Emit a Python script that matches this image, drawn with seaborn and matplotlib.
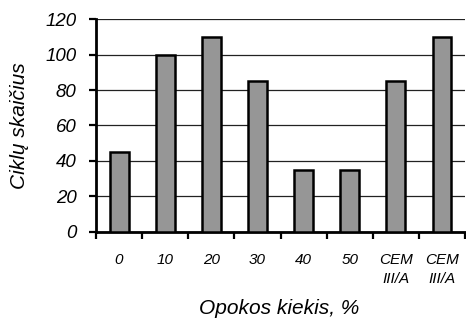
import matplotlib
matplotlib.use("Agg")
import matplotlib.pyplot as plt
import seaborn as sns
import pandas as pd
import numpy as np
from matplotlib.ticker import FixedLocator

# Data
categories = ["0", "10", "20", "30", "40", "50", "CEM\nIII/A", "CEM\nIII/A"]
cycles = [45, 100, 110, 85, 35, 35, 85, 110]
y_ticks = [0, 20, 40, 60, 80, 100, 120]

sns.set_theme(style="white")
plt.rcParams["font.family"] = ["Liberation Sans", "DejaVu Sans"]
plt.rcParams["text.color"] = "black"
plt.rcParams["axes.labelcolor"] = "black"
plt.rcParams["xtick.color"] = "black"
plt.rcParams["ytick.color"] = "black"

df = pd.DataFrame({"pos": list(range(len(categories))), "cycles": cycles})

fig = plt.figure(figsize=(4.66, 3.23), dpi=100)
ax = fig.add_axes([0.206, 0.282, 0.792, 0.659])

sns.barplot(data=df, x="pos", y="cycles", color="#969696", width=0.41,
            edgecolor="black", linewidth=1.8, saturation=1, ax=ax, zorder=3)

ax.set_ylim(0, 120)
ax.set_xlim(-0.5, len(categories) - 0.5)
ax.set_yticks(y_ticks)
ax.set_yticklabels([str(v) for v in y_ticks], fontsize=13.5, style="italic")
ax.yaxis.grid(True, color="#222222", linewidth=0.9, zorder=0)
ax.set_axisbelow(True)

# Ticks at category boundaries, labels centered under bars
ax.xaxis.set_major_locator(FixedLocator(np.arange(-0.5, len(categories), 1.0)))
ax.set_xticklabels([""] * (len(categories) + 1))
ax.xaxis.set_minor_locator(FixedLocator(np.arange(len(categories))))
ax.set_xticklabels(categories, minor=True, fontsize=11, style="italic",
                   linespacing=1.45, va="top")
ax.tick_params(axis="x", which="major", direction="out", length=5, width=1.6,
               color="black", bottom=True)
ax.tick_params(axis="x", which="minor", length=0, pad=15)
ax.tick_params(axis="y", direction="out", length=5, width=1.6, color="black",
               left=True, pad=9)

for side in ["top", "right"]:
    ax.spines[side].set_visible(False)
for side in ["left", "bottom"]:
    ax.spines[side].set_color("black")
    ax.spines[side].set_linewidth(2)

ax.set_xlabel("Opokos kiekis, %", fontsize=15, style="italic")
ax.set_ylabel("Ciklų skaičius", fontsize=15, style="italic")
ax.xaxis.set_label_coords(0.495, -0.315)
ax.yaxis.set_label_coords(-0.181, 0.5)

fig.savefig("out.png", dpi=100)
